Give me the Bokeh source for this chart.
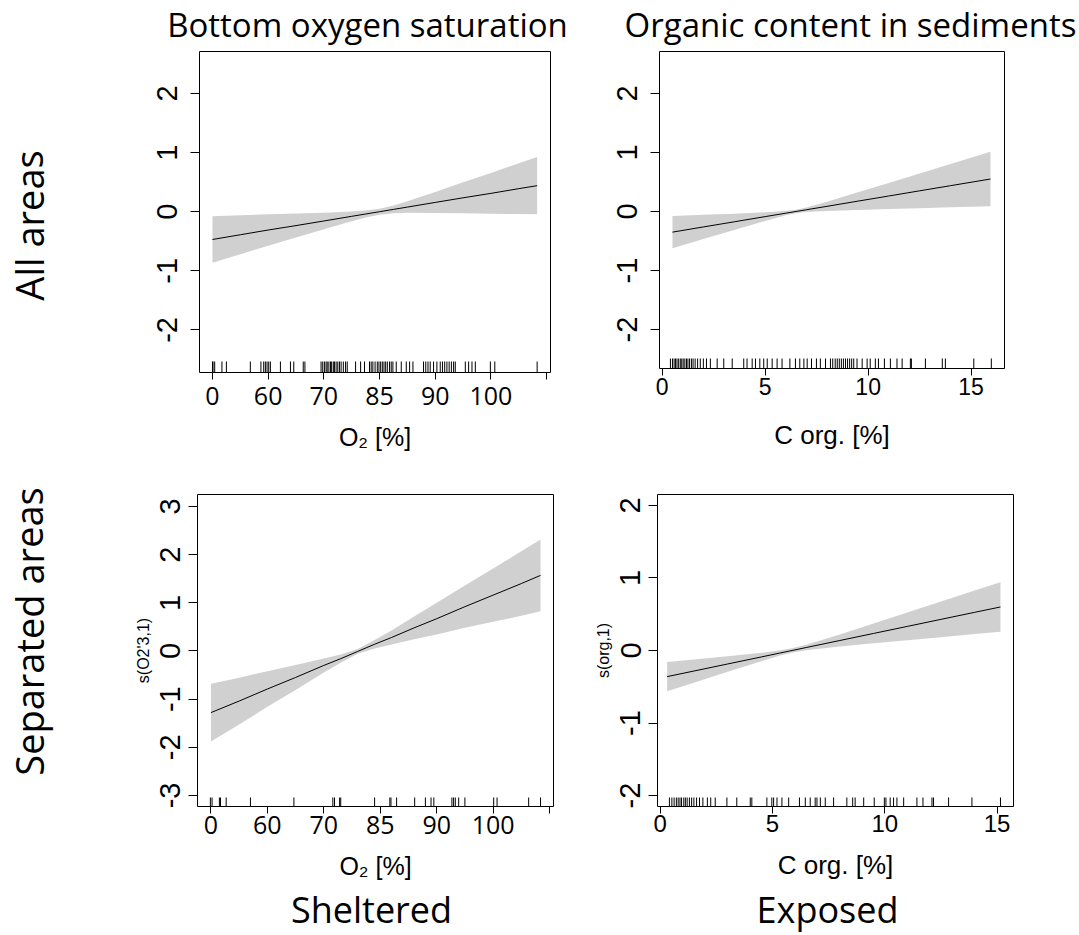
import math
from bokeh.plotting import figure
from bokeh.layouts import column, row
from bokeh.models import Range1d, FixedTicker
from bokeh.core.properties import value
from bokeh.embed import file_html
from bokeh.resources import INLINE

# ---------------- data ----------------
col_titles = ["Bottom oxygen saturation", "Organic content in sediments"]
row_titles = ["All areas", "Separated areas"]
bottom_titles = ["Sheltered", "Exposed"]
o2_tick_pos = [0, 1, 2, 3, 4, 5, 6]
o2_tick_labels = ["0", "60", "70", "85", "90", "100", ""]
corg_ticks = [0, 5, 10, 15]

# top-left: O2, all areas (x in tick-index units)
tl_x = [0, 0.5, 1, 1.5, 2, 2.5, 2.75, 3, 3.25, 3.5, 4, 4.5, 5, 5.5, 5.83]
tl_fit = [-0.47, -0.39, -0.31, -0.235, -0.157, -0.078, -0.039, 0.0, 0.039, 0.078, 0.157, 0.235, 0.31, 0.39, 0.44]
tl_up = [-0.077, -0.06, -0.044, -0.032, -0.018, 0.004, 0.021, 0.05, 0.104, 0.175, 0.334, 0.498, 0.656, 0.82, 0.925]
tl_lo = [-0.863, -0.72, -0.576, -0.438, -0.296, -0.16, -0.099, -0.05, -0.026, -0.019, -0.02, -0.028, -0.036, -0.04, -0.045]
tl_rug = [0.0, 0.01, 0.04, 0.17, 0.25, 0.68, 0.87, 0.92, 0.95, 0.98, 1.01, 1.04, 1.22, 1.40, 1.46,
          1.63, 1.66, 1.95, 1.98, 2.01, 2.04, 2.06, 2.09, 2.12, 2.14, 2.17, 2.19, 2.22, 2.25, 2.28,
          2.31, 2.35, 2.39, 2.42, 2.57, 2.66, 2.73, 2.82, 2.85, 2.88, 2.92, 2.96, 2.99, 3.02, 3.05,
          3.08, 3.11, 3.14, 3.18, 3.21, 3.24, 3.30, 3.39, 3.48, 3.54, 3.60, 3.79, 3.83, 3.87, 3.91,
          3.97, 4.03, 4.09, 4.13, 4.17, 4.21, 4.25, 4.29, 4.33, 4.36, 4.54, 4.60, 4.66, 4.72, 4.99,
          5.07, 5.83]

# top-right: C org, all areas
tr_x = [0.5, 2, 3.5, 5, 6, 6.5, 7, 8, 9.5, 11, 12.5, 14, 15.94]
tr_fit = [-0.35, -0.262, -0.175, -0.087, -0.029, 0.0, 0.029, 0.087, 0.175, 0.262, 0.35, 0.437, 0.55]
tr_up = [-0.078, -0.057, -0.037, -0.013, 0.008, 0.03, 0.068, 0.166, 0.324, 0.483, 0.644, 0.803, 1.01]
tr_lo = [-0.622, -0.467, -0.313, -0.161, -0.066, -0.03, -0.01, 0.008, 0.026, 0.041, 0.056, 0.071, 0.09]
tr_rug = [0.40, 0.50, 0.58, 0.65, 0.72, 0.80, 0.88, 0.95, 1.02, 1.10, 1.18, 1.25, 1.33, 1.42, 1.50,
          1.60, 1.72, 1.85, 2.00, 2.15, 2.34, 2.67, 2.99, 3.40, 3.96, 4.12, 4.37, 4.53, 4.74, 4.93,
          5.10, 5.34, 5.58, 5.82, 6.20, 6.47, 6.68, 6.88, 7.04, 7.25, 7.49, 7.68, 7.93, 8.17, 8.28,
          8.40, 8.50, 8.60, 8.70, 8.80, 8.90, 9.00, 9.10, 9.20, 9.30, 9.46, 9.71, 9.95, 10.10, 10.35,
          10.50, 10.79, 11.08, 11.40, 11.65, 12.05, 12.10, 12.78, 13.60, 13.75, 15.13, 15.98]

# bottom-left: O2, sheltered
bl_x = [0, 0.5, 1, 1.5, 2, 2.3, 2.6, 2.9, 3.2, 3.6, 4, 4.5, 5, 5.5, 5.84]
bl_fit = [-1.28, -1.04, -0.79, -0.55, -0.30, -0.16, -0.01, 0.14, 0.28, 0.48, 0.67, 0.92, 1.16, 1.40, 1.57]
bl_up = [-0.68, -0.555, -0.42, -0.29, -0.154, -0.073, 0.04, 0.227, 0.426, 0.715, 1.0, 1.36, 1.715, 2.07, 2.315]
bl_lo = [-1.88, -1.525, -1.16, -0.81, -0.446, -0.247, -0.06, 0.053, 0.134, 0.245, 0.34, 0.48, 0.605, 0.73, 0.825]
bl_rug = [-0.01, 0.02, 0.15, 0.17, 0.27, 0.70, 1.47, 2.16, 2.19, 2.28, 2.30, 2.90, 3.17, 3.19,
          3.29, 3.61, 3.80, 3.90, 3.95, 4.27, 4.30, 4.33, 4.39, 4.50, 5.01, 5.07, 5.63, 5.84]

# bottom-right: C org, exposed
br_x = [0.31, 1.5, 3, 4.5, 5.3, 5.87, 6.5, 8, 9.5, 11, 12.5, 14, 15.15]
br_fit = [-0.36, -0.283, -0.186, -0.089, -0.037, 0.0, 0.041, 0.138, 0.235, 0.332, 0.429, 0.526, 0.60]
br_up = [-0.158, -0.123, -0.079, -0.031, -0.001, 0.03, 0.079, 0.222, 0.371, 0.522, 0.674, 0.826, 0.94]
br_lo = [-0.562, -0.443, -0.293, -0.147, -0.073, -0.03, 0.003, 0.054, 0.099, 0.142, 0.184, 0.226, 0.26]
br_rug = [0.41, 0.52, 0.62, 0.72, 0.80, 0.88, 0.95, 1.05, 1.12, 1.20, 1.30, 1.40, 1.50, 1.62,
          1.75, 1.90, 2.10, 2.25, 2.45, 2.97, 3.41, 4.01, 4.08, 4.75, 4.97, 5.05, 5.20, 5.42, 5.72,
          6.20, 6.46, 6.68, 6.90, 6.98, 7.13, 7.35, 7.72, 8.31, 8.57, 8.68, 9.06, 9.53, 9.98, 10.05,
          10.24, 10.39, 10.54, 10.84, 11.43, 11.70, 12.10, 12.17, 12.84, 13.88, 15.15]

HEAD_FONT = "Open Sans"
SANS = "Liberation Sans"
BAND = "#d0d0d0"


def make_panel(xr, yr, fw, fh, ml, mr, mt, mb, xs, fit, up, lo, rug, rug_px,
               xticks, xlabels, xfont, xsize, xstand, yticks, ystand, xtitle, xtitle_size,
               xtitle_stand, ytitle=""):
    p = figure(frame_width=fw, frame_height=fh, x_range=Range1d(*xr), y_range=Range1d(*yr),
               output_backend="svg", toolbar_location=None,
               min_border_left=ml, min_border_right=mr, min_border_top=mt, min_border_bottom=mb)
    p.grid.visible = False
    p.outline_line_color = "black"
    p.outline_line_alpha = 1.0
    p.outline_line_width = 1
    p.background_fill_color = "white"
    p.border_fill_color = "white"

    p.varea(x=xs, y1=lo, y2=up, fill_color=BAND, fill_alpha=1.0)
    p.line(x=xs, y=fit, line_color="black", line_width=1)
    ymin = yr[0]
    L = rug_px * (yr[1] - yr[0]) / fh
    p.segment(x0=rug, y0=[ymin] * len(rug), x1=rug, y1=[ymin + L] * len(rug),
              line_color="black", line_width=1)

    xa = p.xaxis[0]
    xa.ticker = FixedTicker(ticks=xticks)
    if xlabels is not None:
        xa.major_label_overrides = {t: l for t, l in zip(xticks, xlabels)}
    xa.major_label_text_font = xfont
    xa.major_label_text_font_size = f"{xsize}px"
    xa.major_label_text_color = "black"
    xa.major_label_standoff = xstand
    xa.axis_line_color = None
    xa.major_tick_in = 0
    xa.major_tick_out = 7
    xa.major_tick_line_color = "black"
    xa.minor_tick_line_color = None
    xa.axis_label = xtitle
    xa.axis_label_text_font = SANS
    xa.axis_label_text_font_size = f"{xtitle_size}px"
    xa.axis_label_text_font_style = "normal"
    xa.axis_label_text_color = "black"
    xa.axis_label_standoff = xtitle_stand

    ya = p.yaxis[0]
    ya.ticker = FixedTicker(ticks=yticks)
    ya.major_label_overrides = {t: str(t) for t in yticks}
    ya.major_label_orientation = "vertical"
    ya.major_label_text_font = SANS
    ya.major_label_text_font_size = "29px"
    ya.major_label_text_color = "black"
    ya.major_label_standoff = ystand
    ya.axis_line_color = None
    ya.major_tick_in = 0
    ya.major_tick_out = 9
    ya.major_tick_line_color = "black"
    ya.minor_tick_line_color = None
    ya.axis_label = ytitle if ytitle else None
    ya.axis_label_text_font = SANS
    ya.axis_label_text_font_size = "16px"
    ya.axis_label_text_font_style = "normal"
    ya.axis_label_text_color = "black"
    ya.axis_label_standoff = 6
    return p


def text_fig(w, h):
    p = figure(frame_width=w, frame_height=h, x_range=Range1d(0, w), y_range=Range1d(0, h),
               output_backend="svg", toolbar_location=None, x_axis_type=None, y_axis_type=None,
               min_border=0)
    p.grid.visible = False
    p.outline_line_color = None
    p.background_fill_color = "white"
    p.border_fill_color = "white"
    return p


# layout geometry (page pixels)
W = 1079
HEAD_H = 48
LEFT_W = 60
ROW1_H = 412
ROW2_H = 423
FOOT_H = 52
LEFT_H = ROW1_H + ROW2_H

header = text_fig(W, HEAD_H)
header.text(x=[367, 850], y=[24.2, 24.2], text=col_titles,
            text_font=value(HEAD_FONT), text_font_size="33px", text_color="black",
            text_align="center", text_baseline="alphabetic")

leftcol = text_fig(LEFT_W, LEFT_H)
leftcol.text(x=[28, 28], y=[LEFT_H + HEAD_H - 225, LEFT_H + HEAD_H - 631],
             text=row_titles, angle=[math.pi / 2] * 2,
             text_font=value(HEAD_FONT), text_font_size="38px", text_color="black",
             text_align="center", text_baseline="alphabetic")

tl = make_panel((-0.233, 6.07), (-2.72, 2.71), 351, 321, 139, 5, 3, 88,
                tl_x, tl_fit, tl_up, tl_lo, tl_rug, 11,
                o2_tick_pos, o2_tick_labels, HEAD_FONT, 25, 7, [-2, -1, 0, 1, 2], 13,
                "O₂ [%]", 25, 15)
tr = make_panel((-0.13, 16.62), (-2.66, 2.71), 345, 317, 104, 67, 3, 92,
                tr_x, tr_fit, tr_up, tr_lo, tr_rug, 10,
                corg_ticks, None, SANS, 23, 2, [-2, -1, 0, 1, 2], 13,
                "C org. [%]", 26, 22)
bl = make_panel((-0.238, 6.07), (-3.23, 3.25), 356, 312, 137, 5, 34, 77,
                bl_x, bl_fit, bl_up, bl_lo, bl_rug, 9,
                o2_tick_pos, o2_tick_labels, HEAD_FONT, 25, 2, [-3, -2, -1, 0, 1, 2, 3], 8,
                "O₂ [%]", 25, 15, ytitle="s(O2'3,1)")
br = make_panel((-0.12, 15.73), (-2.15, 2.15), 356, 312, 99, 58, 34, 77,
                br_x, br_fit, br_up, br_lo, br_rug, 9,
                corg_ticks, None, SANS, 24, 1, [-2, -1, 0, 1, 2], 8,
                "C org. [%]", 26, 15, ytitle="s(org,1)")

footer = text_fig(W, FOOT_H)
footer.text(x=[371, 827], y=[25.7, 25.7], text=bottom_titles,
            text_font=value(HEAD_FONT), text_font_size="36px", text_color="black",
            text_align="center", text_baseline="alphabetic")

layout = column(header, row(leftcol, column(row(tl, tr), row(bl, br))), footer)
open("out.html", "w").write(file_html(layout, INLINE))
